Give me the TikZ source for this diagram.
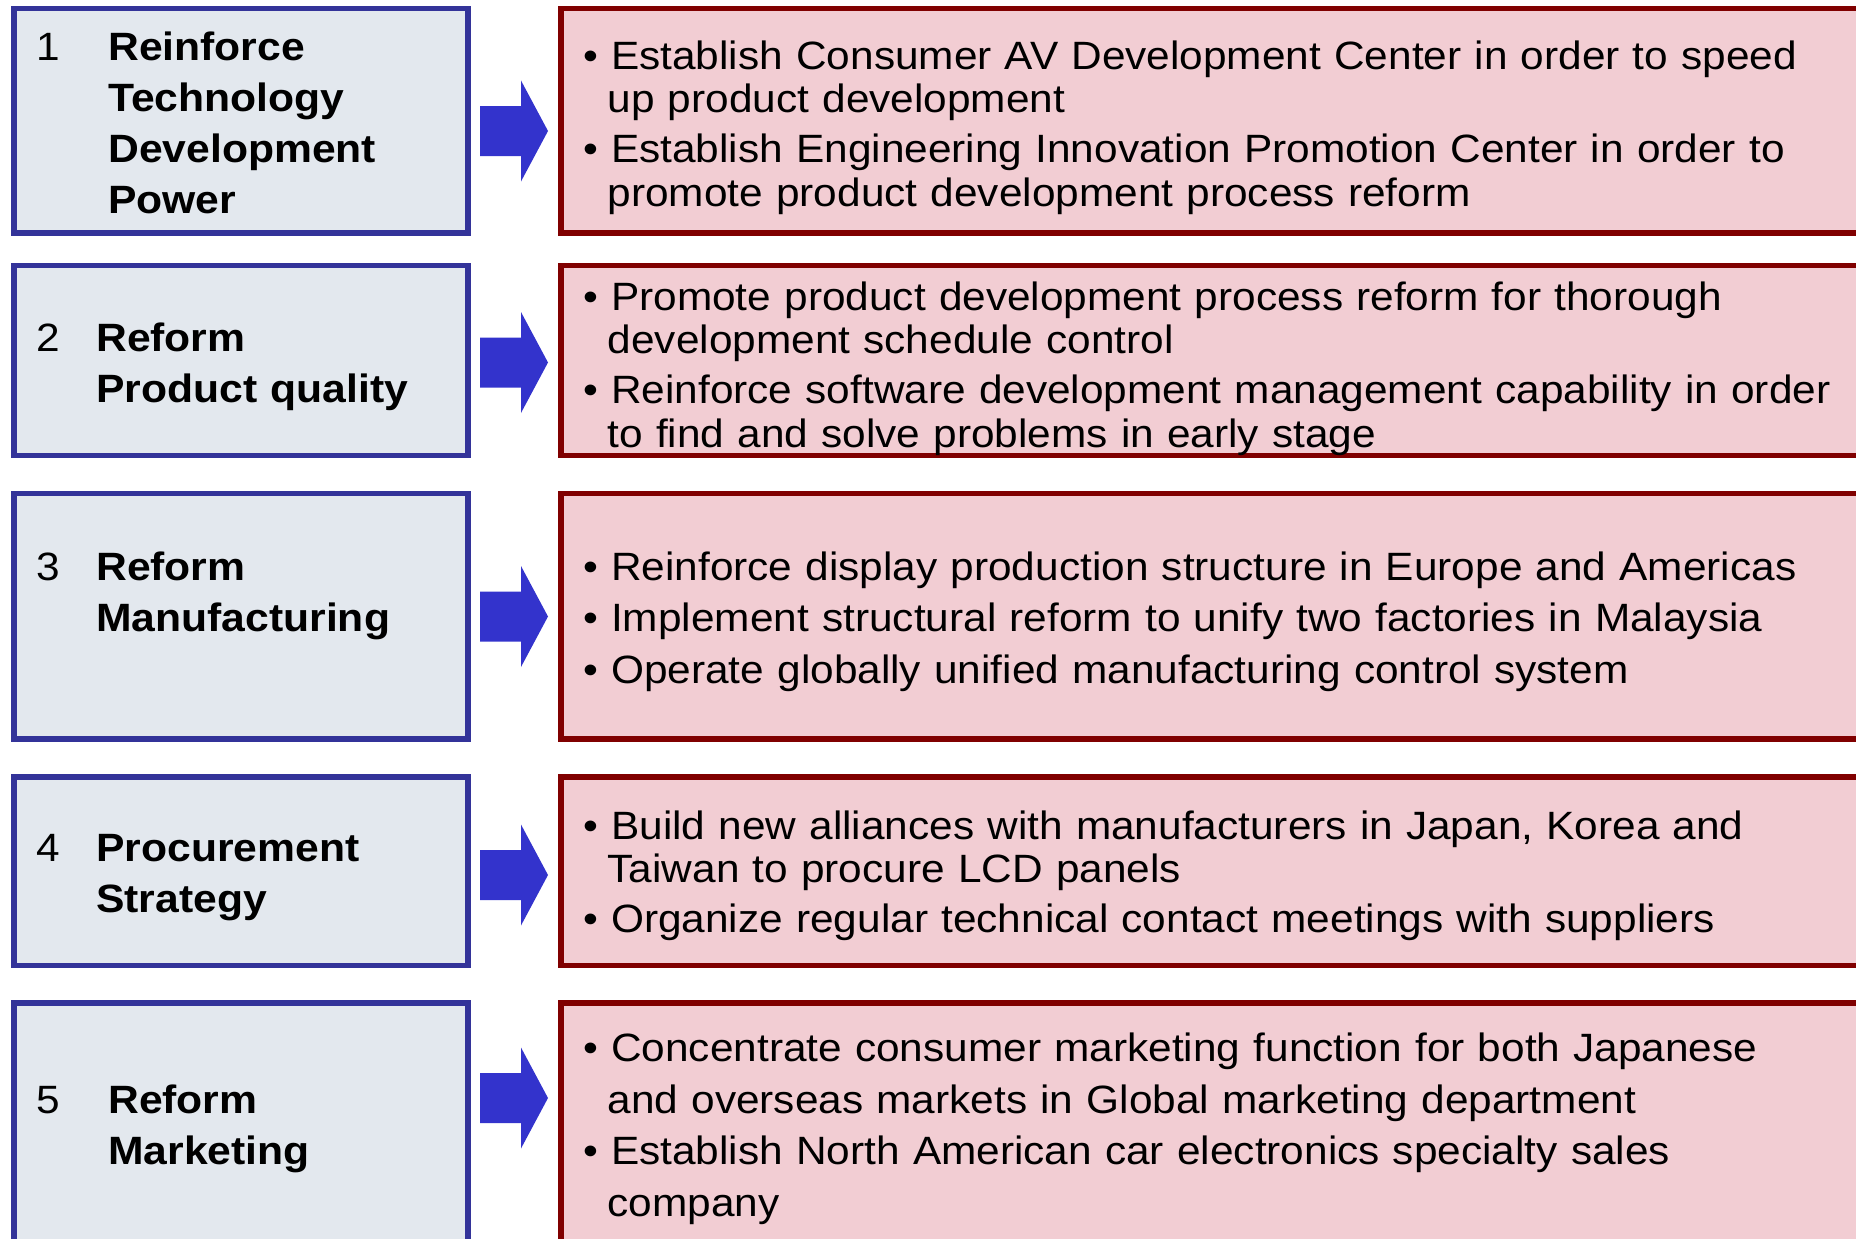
\documentclass[tikz,border=0pt]{standalone}
\usepackage{fontspec}
\setmainfont{Liberation Sans}[FakeStretch=1.073, BoldFeatures={FakeStretch=1.08}]

\definecolor{goalblue}{HTML}{333399}
\definecolor{goalgrey}{HTML}{E3E8EE}
\definecolor{arrowblue}{HTML}{3333CC}
\definecolor{actred}{HTML}{800000}
\definecolor{actpink}{HTML}{F2CDD3}

\newcommand\bdot{\textbullet~}
\newcommand\bcont{\hspace*{24.5pt}}

\tikzset{
     goal/.style = { draw=goalblue, fill=goalgrey, line width=5.5pt, minimum width=454pt, inner sep=0pt },
   action/.style = { draw=actred, fill=actpink, line width=5.5pt, minimum width=1339pt, inner sep=0pt },
      num/.style = { anchor=base west, inner sep=0pt, font=\fontsize{39.5}{51}\selectfont },
  heading/.style = { anchor=base west, inner sep=0pt, text width=400pt, align=left, font=\fontsize{39.5}{51}\selectfont\bfseries },
   points/.style = { anchor=base west, inner sep=0pt, text width=1350pt, align=left, font=\fontsize{39.5}{43.5}\selectfont },
 bigarrow/.style = { fill=arrowblue },
}

\begin{document}
\begin{tikzpicture}[x=1pt,y=-1pt]
  \useasboundingbox (0,0) rectangle (1856,1239);
  \clip (0,0) rectangle (1856,1239);
  % one row: goal box, block arrow, action box
  \foreach \i/\c/\h/\a in {1/120.75/224.5/131, 2/360.5/190/362.5, 3/616.25/245.5/616.5,
                           4/871.25/188.5/875, 5/1151.5/297/1098} {
    \node[goal, minimum height=\h*1pt] (goal\i) at (241,\c) {};
    \node[action, minimum height=\h*1pt] (act\i) at (1230.5,\c) {};
    \fill[bigarrow] (480,\a-25) -- (521,\a-25) -- (521,\a-50.5) -- (548,\a)
      -- (521,\a+50.5) -- (521,\a+25) -- (480,\a+25) -- cycle;
  }

  \node[num] (n1) at (36,60.5) {1};
  \node[heading] (h1) at (108,60.5) {Reinforce\\Technology\\Development\\Power};
  \node[num] (n2) at (36,351.7) {2};
  \node[heading] (h2) at (96,351.7) {Reform\\Product quality};
  \node[num] (n3) at (36,580) {3};
  \node[heading] (h3) at (96,580) {Reform\\Manufacturing};
  \node[num] (n4) at (36,861.7) {4};
  \node[heading] (h4) at (96,861.7) {Procurement\\Strategy};
  \node[num] (n5) at (36,1113.3) {5};
  \node[heading] (h5) at (108,1113.3) {Reform\\Marketing};

  \node[points] (p1) at (583,69.3) {\bdot Establish Consumer AV Development Center in order to speed\\
    \bcont up product development\\[6.5pt]
    \bdot Establish Engineering Innovation Promotion Center in order to\\
    \bcont promote product development process reform};
  \node[points] (p2) at (583,310) {\bdot Promote product development process reform for thorough\\
    \bcont development schedule control\\[6.5pt]
    \bdot Reinforce software development management capability in order\\
    \bcont to find and solve problems in early stage};
  \node[points] (p3) at (583,580) {\bdot Reinforce display production structure in Europe and Americas\\[8pt]
    \bdot Implement structural reform to unify two factories in Malaysia\\[8pt]
    \bdot Operate globally unified manufacturing control system};
  \node[points] (p4) at (583,839) {\bdot Build new alliances with manufacturers in Japan, Korea and\\
    \bcont Taiwan to procure LCD panels\\[6.5pt]
    \bdot Organize regular technical contact meetings with suppliers};
  \node[points, font=\fontsize{39.5}{51.5}\selectfont] (p5) at (583,1061.5) {\bdot Concentrate consumer marketing function for both Japanese\\
    \bcont and overseas markets in Global marketing department\\
    \bdot Establish North American car electronics specialty sales\\
    \bcont company};
\end{tikzpicture}
\end{document}
